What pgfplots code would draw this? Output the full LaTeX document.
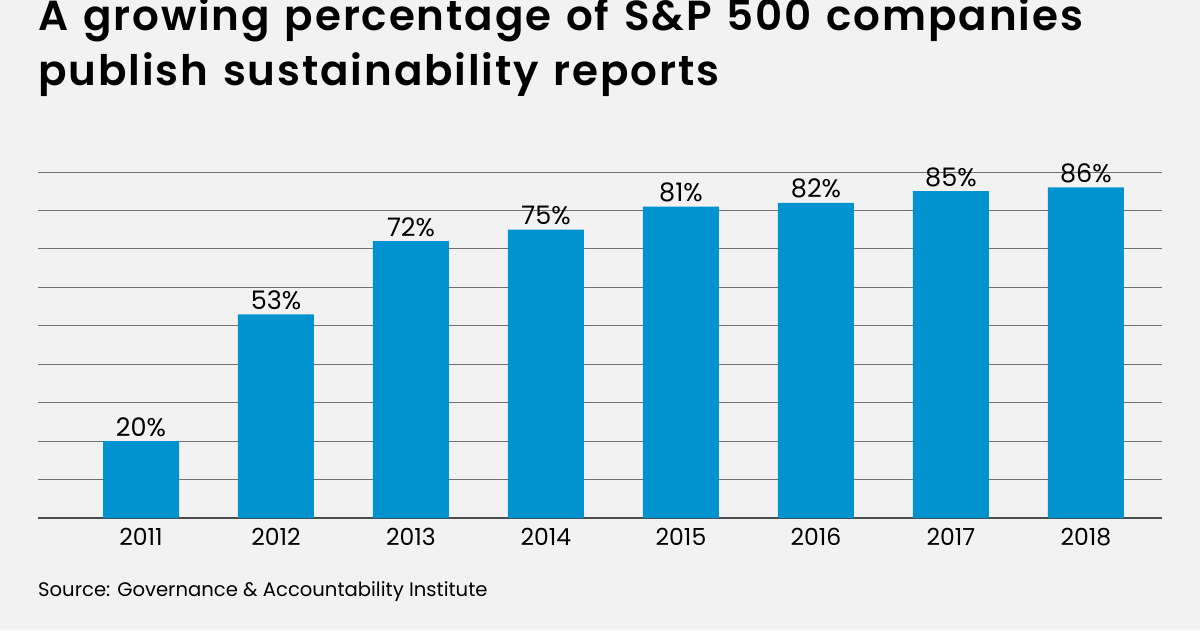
\documentclass[border=0pt]{standalone}
\usepackage{pgfplots}
\pgfplotsset{compat=1.18}
\usepackage{fontspec}
\setmainfont{Poppins}[BoldFont={* SemiBold}]
\newfontfamily\titlefont{Poppins SemiBold}[LetterSpace=4.5, WordSpace=1.25]
\definecolor{bg}{HTML}{F1F2F1}
\definecolor{barblue}{HTML}{0093D0}
\definecolor{gridgray}{HTML}{707070}

\begin{document}
\begin{tikzpicture}
\fill[bg] (0pt,0pt) rectangle (1200pt,630pt);
\useasboundingbox (0pt,0pt) rectangle (1200pt,630pt);

% title, two lines
\node[anchor=base west, inner sep=0pt, font=\fontsize{42}{53}\selectfont\titlefont]
  at (38pt,599pt) {A growing percentage of S\&P 500 companies};
\node[anchor=base west, inner sep=0pt, font=\fontsize{42}{53}\selectfont\titlefont]
  at (38pt,544pt) {publish sustainability reports};

\begin{axis}[
    at={(38pt,112pt)}, anchor=south west,
    scale only axis,
    width=1124pt, height=346pt,
    xmin=-0.763, xmax=7.563,
    ymin=0, ymax=90,
    clip=false,
    ybar, bar width=76pt,
    axis line style={draw=none},
    tick style={draw=none},
    ytick={10,20,...,90},
    yticklabels={},
    ymajorgrids,
    grid style={gridgray, line width=1pt},
    extra y ticks={0},
    extra y tick labels={},
    extra tick style={grid style={black!70, line width=1.2pt}},
    xtick={0,...,7},
    xticklabels={2011,2012,2013,2014,2015,2016,2017,2018},
    xticklabel style={font=\fontsize{23.5}{23.5}\selectfont, anchor=base, yshift=-23pt},
    /pgf/number format/assume math mode=true,
    nodes near coords={\pgfmathprintnumber{\pgfplotspointmeta}\%},
    every node near coord/.append style={font=\fontsize{25.5}{25.5}\selectfont,
        anchor=base, inner sep=0pt, yshift=5pt, text=black},
]
\addplot[fill=barblue, draw=none] coordinates {
    (0,20) (1,53) (2,72) (3,75) (4,81) (5,82) (6,85) (7,86)};
\end{axis}

\node[anchor=base west, inner sep=0pt, font=\fontsize{19.6}{20}\selectfont]
  at (38pt,34pt) {Source: Governance \& Accountability Institute};
\end{tikzpicture}
\end{document}
